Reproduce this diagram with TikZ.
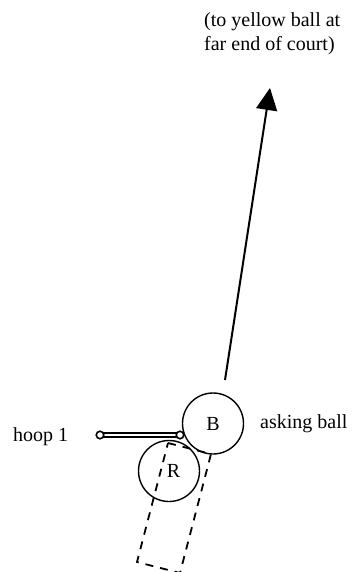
\documentclass[tikz,border=0pt]{standalone}
\usepackage{fontspec}
\setmainfont{Liberation Serif}
\usetikzlibrary{arrows.meta}
\begin{document}
\begin{tikzpicture}[x=1pt,y=-1pt,
  lbl/.style={anchor=base west, inner sep=0pt, font=\fontsize{20}{24}\selectfont},
  ball/.style={circle, draw, line width=1.4pt, minimum size=61pt, inner sep=0pt, font=\fontsize{20}{24}\selectfont},
  hoopbar/.style={double, double distance=2.5pt, line width=2pt},
  hoopend/.style={circle, draw, fill=white, line width=1.6pt, minimum size=7.5pt, inner sep=0pt},
  mallet/.style={line width=1.8pt, dash pattern=on 8pt off 7pt},
  shot/.style={line width=2pt, -{Triangle[length=22pt,width=21pt]}}]
\useasboundingbox (0,0) rectangle (353,572);
% texts
\node[lbl] (note1) at (204,27) {(to yellow ball at};
\node[lbl] (note2) at (204,51) {far end of court)};
\node[lbl] (ask) at (260,428) {asking ball};
\node[lbl] (hooplbl) at (13,441) {hoop 1};
% mallet (dashed)
\coordinate (m1) at (168,443);
\coordinate (m2) at (211,454);
\coordinate (m3) at (180,573);
\coordinate (m4) at (137,562);
\draw[mallet] (m1) -- (m2) -- (m3) -- (m4) -- cycle;
% hoop
\coordinate (h1) at (100,435);
\coordinate (h2) at (180,435);
\draw[hoopbar] (h1) -- (h2);
\node[hoopend] (he1) at (h1) {};
\node[hoopend] (he2) at (h2) {};
% balls
\node[ball] (B) at (213,423.5) {B};
\node[ball] (R) at (169,471) {\kern9pt R};
% shot direction
\coordinate (s) at (225,380);
\coordinate (t) at (270,88);
\draw[shot] (s) -- (t);
\end{tikzpicture}
\end{document}
